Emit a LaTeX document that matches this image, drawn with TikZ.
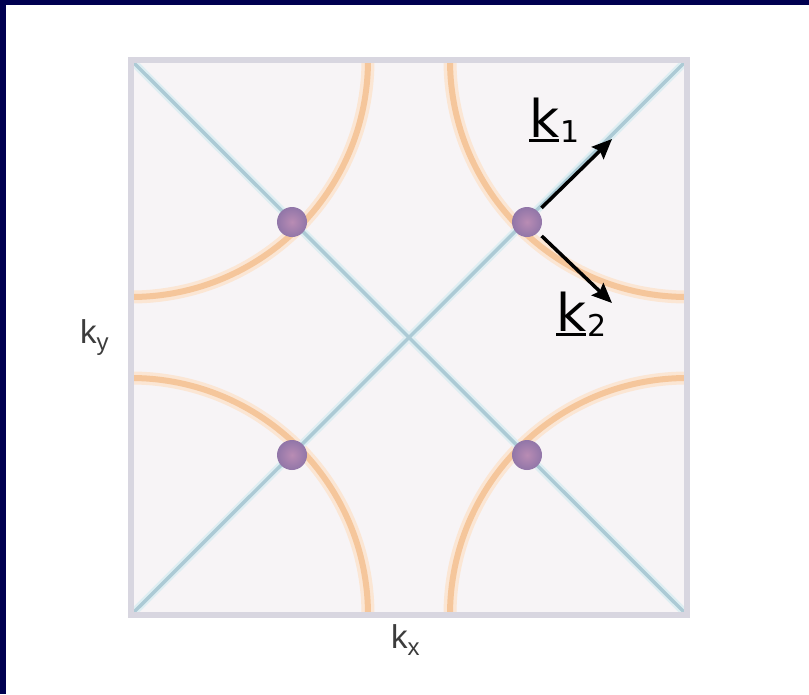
\documentclass[tikz,border=0pt]{standalone}
\usepackage{fontspec}
\setmainfont{DejaVu Sans}
\newfontfamily\axisfont{Liberation Sans}
\usetikzlibrary{arrows.meta}

\definecolor{navy}{RGB}{0,0,80}
\definecolor{zonefill}{RGB}{247,244,246}
\definecolor{zoneframe}{RGB}{216,214,224}
\definecolor{nodeline}{RGB}{172,202,213}
\definecolor{nodehalo}{RGB}{222,238,242}
\definecolor{fermi}{RGB}{245,198,155}
\definecolor{fermihalo}{RGB}{251,230,212}
\definecolor{axislabel}{RGB}{60,60,60}

\newcommand{\ulk}{\vtop{\hbox{k}\kern1.5pt\hrule height 3.5pt}}

\tikzset{
  diag/.style={nodeline,line width=3.5pt},
  diaghalo/.style={nodehalo,line width=8pt},
  arcline/.style={fermi,line width=6pt},
  archalo/.style={fermihalo,line width=13pt},
  gapnode/.style={circle,minimum size=30pt,inner sep=0pt,
    inner color={rgb,255:red,185;green,140;blue,180},
    outer color={rgb,255:red,145;green,118;blue,168}},
  karrow/.style={-{Stealth[length=20pt,width=17pt,inset=3pt]},line width=3.5pt,
    shorten <=5pt},
  klabel/.style={font=\fontsize{52}{52}\selectfont,inner sep=0pt,anchor=base west},
  axlabel/.style={font=\axisfont\fontsize{33}{33}\selectfont,text=axislabel,
    inner sep=0pt,anchor=base west}
}

\begin{document}
\begin{tikzpicture}[x=1pt,y=-1pt]
  \useasboundingbox (0,0) rectangle (809,694);

  % Draw slide border
  \fill[navy] (0,0) rectangle (809,5);
  \fill[navy] (0,0) rectangle (6,694);

  % Draw zone
  \coordinate (nw) at (131,60);
  \coordinate (ne) at (687,60);
  \coordinate (sw) at (131,615);
  \coordinate (se) at (687,615);
  \fill[zonefill] (nw) rectangle (se);

  % Draw Fermi arcs round the corners
  \begin{scope}
    \clip (nw) rectangle (se);
    \foreach \c in {nw,ne,sw,se}
      \draw[archalo] (\c) circle[radius=237];
    \foreach \c in {nw,ne,sw,se}
      \draw[arcline] (\c) circle[radius=237];

    % Draw node lines
    \draw[diaghalo] (nw) -- (se);
    \draw[diaghalo] (ne) -- (sw);
    \draw[diag] (nw) -- (se);
    \draw[diag] (ne) -- (sw);
  \end{scope}
  \draw[zoneframe,line width=6pt] (nw) rectangle (se);

  % Draw gap nodes
  \node[gapnode] (g1) at (292,222) {};
  \node[gapnode] (g2) at (527,222) {};
  \node[gapnode] (g3) at (292,455) {};
  \node[gapnode] (g4) at (527,455) {};

  % Draw k vectors
  \coordinate (k1end) at (612,139);
  \coordinate (k2end) at (612,303);
  \draw[karrow] (g2) -- (k1end);
  \draw[karrow] (g2) -- (k2end);
  \node[klabel] (k1) at (529,137) {\ulk\kern1pt\raisebox{-5pt}{\fontsize{30}{30}\selectfont 1}};
  \node[klabel] (k2) at (556,331) {\ulk\kern1pt\raisebox{-5pt}{\fontsize{30}{30}\selectfont 2}};

  % Draw axis labels
  \node[axlabel] (ky) at (80,343) {k\raisebox{-7pt}{\fontsize{24}{24}\selectfont y}};
  \node[axlabel] (kx) at (391,648) {k\raisebox{-7pt}{\fontsize{24}{24}\selectfont x}};
\end{tikzpicture}
\end{document}
